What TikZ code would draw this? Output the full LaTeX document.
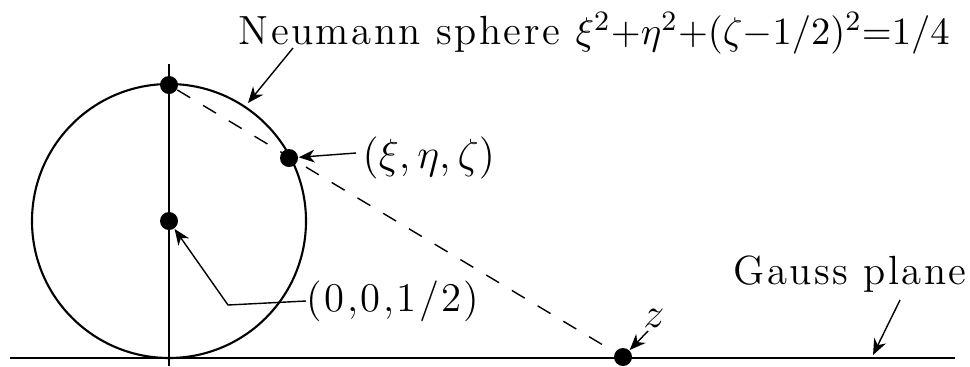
\documentclass[tikz,border=0pt]{standalone}
\usepackage{fontspec}
\setmainfont{Latin Modern Roman}[LetterSpace=6]
\usepackage{amsmath}
\usetikzlibrary{positioning, arrows.meta}

\begin{document}
\begin{tikzpicture}[
        x=0.1mm, y=-0.1mm,
        pt/.style = {circle, fill, inner sep=0pt, minimum size=1.8mm},
        lbl/.style = {inner sep=0pt, font=\fontsize{11.6}{14}\selectfont},
        pointer/.style = {-{Stealth[length=1.6mm, width=1.3mm, inset=0.5mm]}, thin},
    ]
        \useasboundingbox (0,0) rectangle (970,366);

        % axis and sphere
        \draw[semithick] (10,358) -- (955,358);
        \draw[semithick] (169,64) -- (169,366);
        \draw[semithick] (169,221) circle (137mm/10);

        % points
        \node[pt] (north) at (169,85) {};
        \node[pt] (centre) at (169,221) {};
        \node[pt] (xyz) at (289,158) {};
        \node[pt] (z) at (623,357) {};
        \draw[dashed, dash pattern=on 1.5mm off 1.5mm] (north) -- (z);

        % labels
        \node[lbl, anchor=base west] (neumann) at (238,44) {Neumann sphere {\fontsize{11}{13}\selectfont$\xi^2{+}\eta^2{+}(\zeta{-}1/2)^2{=}1/4$}};
        \node[lbl, anchor=west] (xyzlbl) at (362,158) {$(\xi,\eta,\zeta)$};
        \node[lbl, anchor=west] (centrelbl) at (306,301) {(0,0,1/2)};
        \node[lbl] (zlbl) at (654,318) {$z$};
        \node[lbl] (gauss) at (850,274) {Gauss plane};

        \coordinate (sphere) at (248,103);
        \coordinate (plane) at (873,355);

        % pointers
        \draw[pointer] (293,48) -- (sphere);
        \draw[pointer] (xyzlbl.west) ++(-6,-5) -- (xyz);
        \draw[pointer] (centrelbl.west) -- (228,305) -- (centre);
        \draw[pointer] (648,331) -- (z);
        \draw[pointer] (900,300) -- (plane);
    \end{tikzpicture}
\end{document}
